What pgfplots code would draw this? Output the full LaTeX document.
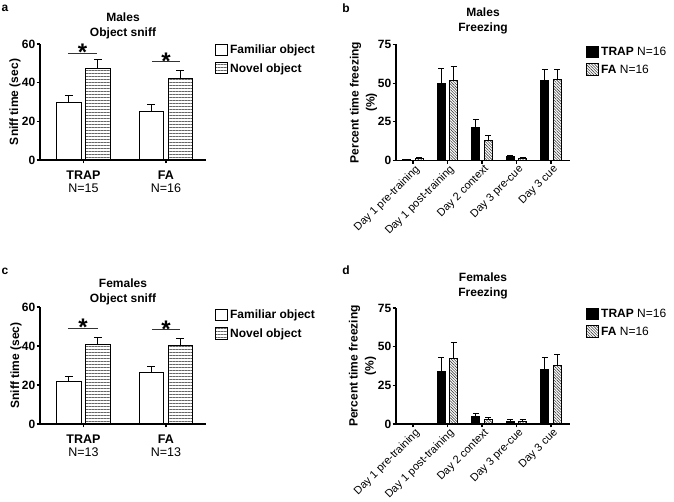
\documentclass[border=0pt]{standalone}
\usepackage{fontspec}
\setmainfont{Liberation Sans}
\usepackage{pgfplots}
\pgfplotsset{compat=1.18}
\usetikzlibrary{patterns.meta}

\pgfplotsset{
  panel/.style={
    scale only axis,
    axis lines*=left,
    axis line style={line width=1.1pt, black},
    tick style={line width=1.1pt, black},
    tick align=outside,
    major tick length=3.5pt,
    /pgf/number format/assume math mode=true,
    yticklabel style={font=\bfseries\fontsize{12}{13}\selectfont, inner sep=1pt},
    ymin=0,
    clip=false,
    title style={font=\bfseries\fontsize{12}{15}\selectfont, align=center, at={(axis description cs:0.5,1)}, anchor=south},
    ylabel style={font=\bfseries\fontsize{12}{16}\selectfont, align=center, anchor=center},
    legend cell align=left,
    legend style={draw=none, fill=none, font=\fontsize{12}{14}\selectfont, inner sep=0pt, row sep=4pt, anchor=north west},
    error bars/y dir=plus, error bars/y explicit,
    error bars/error mark options={rotate=90, mark size=4pt, line width=1pt, black},
    error bars/error bar style={line width=1pt, black},
  },
  fam/.style={draw=black, fill=white, line width=1pt},
  nov/.style={draw=black, line width=1pt, pattern={Lines[angle=0,distance=3pt,line width=0.8pt]}, pattern color=black!60},
  trap/.style={draw=black, fill=black, line width=1pt},
  fa/.style={draw=black, line width=1pt, pattern={Lines[angle=-45,distance=2pt,line width=0.6pt]}, pattern color=black!75},
  sniff/.style={
    panel, ybar, width=166pt, xmin=-0.527, xmax=1.485, ymax=60,
    bar width=24.5pt,
    ytick={0,20,40,60},
    xtick={0,1},
    xticklabel style={font=\fontsize{12.5}{13}\selectfont, align=center, yshift=-4pt},
    ylabel={Sniff time (sec)},
    legend image code/.code={\draw[##1] (0pt,-5.5pt) rectangle (12pt,6pt);},
  },
  freeze/.style={
    panel, ybar, width=174pt, xmin=-0.493, xmax=4.55, ymax=75,
    bar width=8.3pt,
    ytick={0,25,50,75},
    xtick={0,1,2,3,4},
    xticklabels={Day 1 pre-training, Day 1 post-training, Day 2 context, Day 3 pre-cue, Day 3 cue},
    xticklabel style={rotate=45, anchor=north east, font=\fontsize{11}{12}\selectfont, inner sep=1pt, xshift=2pt},
    ylabel={Percent time freezing\\(\%)},
    error bars/error mark options={rotate=90, mark size=3pt, line width=1pt, black},
    legend image code/.code={\draw[##1] (0pt,-5.5pt) rectangle (12pt,6pt);},
  },
}

\begin{document}
\begin{tikzpicture}
\useasboundingbox (0pt,0pt) rectangle (674pt,502pt);

\node[font=\bfseries\fontsize{12}{14}\selectfont] at (5pt,494pt) {a};
\node[font=\bfseries\fontsize{12}{14}\selectfont] at (346pt,494pt) {b};
\node[font=\bfseries\fontsize{12}{14}\selectfont] at (5pt,231pt) {c};
\node[font=\bfseries\fontsize{12}{14}\selectfont] at (346pt,232pt) {d};

% ---------- panel a ----------
\begin{axis}[sniff, at={(40pt,342pt)}, anchor=south west, height=116pt,
  title={Males\\Object sniff}, title style={yshift=-5pt},
  xticklabels={\textbf{TRAP}\\N=15, \textbf{FA}\\N=16},
  ylabel style={at={(axis description cs:-0.1506,0.5)}},
  legend style={at={(axis description cs:1.054,1.009)}, font=\bfseries\fontsize{12}{14}\selectfont}]
\addplot[fam, bar shift=-14.5pt] coordinates {(0,29.5) +- (0,3.6) (1,24.9) +- (0,3.6)};
\addplot[nov, bar shift=14.5pt] coordinates {(0,47.1) +- (0,5.0) (1,42.0) +- (0,4.5)};
\legend{Familiar object, Novel object}
\draw[line width=1pt, black!80] (axis cs:-0.188,55.2) -- (axis cs:0.164,55.2);
\draw[line width=1pt, black!80] (axis cs:0.83,50.9) -- (axis cs:1.17,50.9);
\node[anchor=base, font=\bfseries\fontsize{24}{24}\selectfont, yshift=-7.5pt] at (axis cs:-0.012,55.2) {*};
\node[anchor=base, font=\bfseries\fontsize{24}{24}\selectfont, yshift=-7.5pt] at (axis cs:1.0,50.9) {*};
\end{axis}

% ---------- panel b ----------
\begin{axis}[freeze, at={(396pt,341.7pt)}, anchor=south west, height=115.8pt,
  title={Males\\Freezing}, title style={yshift=0.5pt},
  ylabel style={at={(axis description cs:-0.187,0.5)}},
  legend style={at={(axis description cs:1.092,0.996)}}]
\addplot[trap, bar shift=-6.2pt] coordinates {(0,0.4) +- (0,0.2) (1,50.0) +- (0,9.5) (2,21.3) +- (0,4.8) (3,2.2) +- (0,0.6) (4,51.7) +- (0,7.4)};
\addplot[fa, bar shift=6.2pt] coordinates {(0,1.1) +- (0,0.4) (1,51.5) +- (0,9.0) (2,12.6) +- (0,3.7) (3,1.3) +- (0,0.4) (4,52.4) +- (0,6.7)};
\legend{\textbf{TRAP} N=16, \textbf{FA} N=16}
\end{axis}

% ---------- panel c ----------
\begin{axis}[sniff, at={(40pt,78pt)}, anchor=south west, height=117pt,
  title={Females\\Object sniff}, title style={yshift=-7.5pt},
  xticklabels={\textbf{TRAP}\\N=13, \textbf{FA}\\N=13},
  ylabel style={at={(axis description cs:-0.145,0.5)}},
  legend style={at={(axis description cs:1.054,0.991)}, font=\bfseries\fontsize{12}{14}\selectfont}]
\addplot[fam, bar shift=-14.5pt] coordinates {(0,21.8) +- (0,2.5) (1,26.2) +- (0,3.3)};
\addplot[nov, bar shift=14.5pt] coordinates {(0,40.6) +- (0,3.8) (1,40.1) +- (0,3.8)};
\legend{Familiar object, Novel object}
\draw[line width=1pt, black!80] (axis cs:-0.188,49.2) -- (axis cs:0.176,49.2);
\draw[line width=1pt, black!80] (axis cs:0.83,48.3) -- (axis cs:1.17,48.3);
\node[anchor=base, font=\bfseries\fontsize{24}{24}\selectfont, yshift=-7.5pt] at (axis cs:-0.006,49.2) {*};
\node[anchor=base, font=\bfseries\fontsize{24}{24}\selectfont, yshift=-7.5pt] at (axis cs:1.0,48.3) {*};
\end{axis}

% ---------- panel d ----------
\begin{axis}[freeze, at={(396pt,78pt)}, anchor=south west, height=116pt,
  title={Females\\Freezing}, title style={yshift=-1pt},
  ylabel style={at={(axis description cs:-0.192,0.5)}},
  legend style={at={(axis description cs:1.092,1.009)}}]
\addplot[trap, bar shift=-6.2pt] coordinates {(0,0.2) +- (0,0.1) (1,33.9) +- (0,9.3) (2,4.8) +- (0,2.1) (3,1.9) +- (0,0.9) (4,35.4) +- (0,7.4)};
\addplot[fa, bar shift=6.2pt] coordinates {(0,0.0) +- (0,0.0) (1,42.1) +- (0,10.6) (2,3.0) +- (0,1.3) (3,1.9) +- (0,0.7) (4,37.8) +- (0,7.3)};
\legend{\textbf{TRAP} N=16, \textbf{FA} N=16}
\end{axis}
\end{tikzpicture}
\end{document}
